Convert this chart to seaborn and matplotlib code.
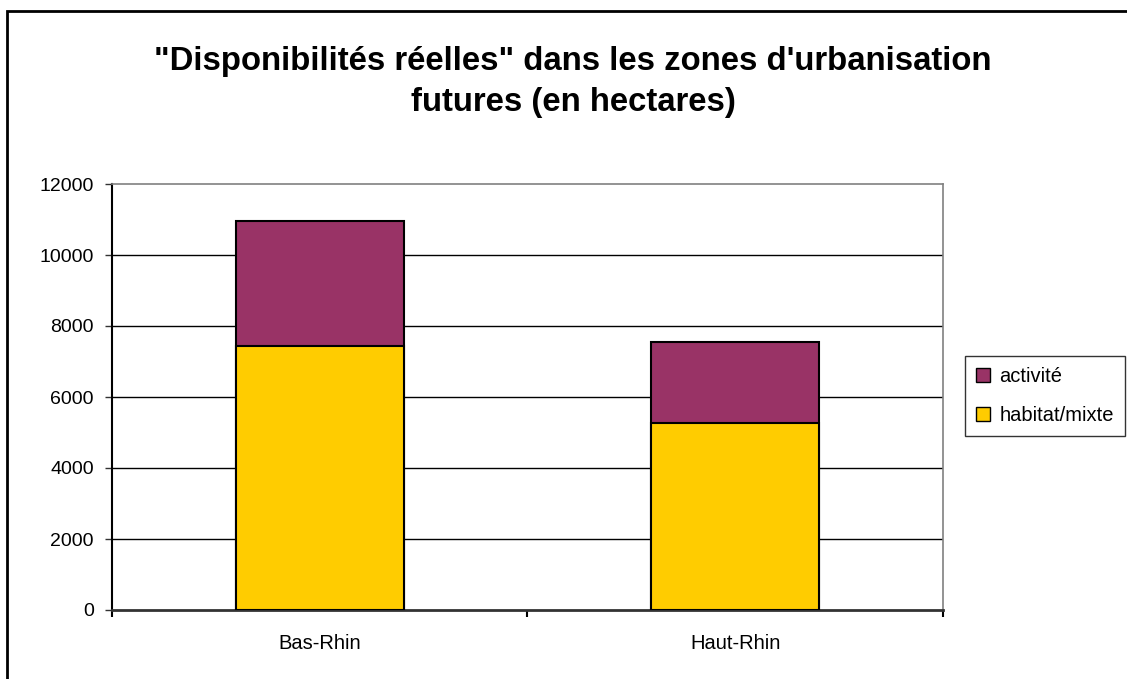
import matplotlib
matplotlib.use("Agg")
import matplotlib.pyplot as plt
from matplotlib.patches import Patch, Rectangle
import seaborn as sns
import pandas as pd

categories = ["Bas-Rhin", "Haut-Rhin"]
habitat_mixte = [7430, 5280]
activite = [3530, 2275]
series_labels = ["activité", "habitat/mixte"]
title = "\"Disponibilités réelles\" dans les zones d'urbanisation\nfutures (en hectares)"

totals = [h + a for h, a in zip(habitat_mixte, activite)]
df = pd.DataFrame({"cat": categories, "habitat": habitat_mixte, "total": totals})

sns.set_style("white")
plt.rcParams["font.family"] = ["Liberation Sans", "DejaVu Sans"]
plt.rcParams["text.color"] = "black"
plt.rcParams["xtick.color"] = "black"
plt.rcParams["ytick.color"] = "black"

W, H = 1127, 679
fig = plt.figure(figsize=(W / 100, H / 100), dpi=100)
L, R, T, B = 112, 943, 184, 610
ax = fig.add_axes([L / W, (H - B) / H, (R - L) / W, (B - T) / H])

purple = "#993366"
yellow = "#FFCC00"
sns.barplot(data=df, x="cat", y="total", color=purple, saturation=1, width=0.404,
            edgecolor="black", linewidth=1.5, ax=ax, zorder=3)
sns.barplot(data=df, x="cat", y="habitat", color=yellow, saturation=1, width=0.404,
            edgecolor="black", linewidth=1.5, ax=ax, zorder=4)

ax.set_xlim(-0.5, 1.5)
ax.set_ylim(0, 12000)
ax.set_yticks(range(0, 12001, 2000))
ax.set_xlabel("")
ax.set_ylabel("")
for y in range(2000, 12000, 2000):
    ax.axhline(y, color="black", linewidth=1.0, zorder=1)

ax.tick_params(axis="y", which="major", direction="out", length=5, width=1,
               color="#333333", pad=8, labelsize=14, left=True, labelcolor="black")
ax.tick_params(axis="x", which="major", length=0, pad=17, labelsize=14.5,
               labelcolor="black")
ax.set_xticks([-0.5, 0.5, 1.5], minor=True)
ax.tick_params(axis="x", which="minor", direction="out", length=5, width=1.5,
               color="black", bottom=True)

for side in ["top", "right"]:
    ax.spines[side].set_visible(True)
    ax.spines[side].set_color("#808080")
    ax.spines[side].set_linewidth(1.2)
ax.spines["left"].set_color("black")
ax.spines["left"].set_linewidth(1.5)
ax.spines["bottom"].set_color("#333333")
ax.spines["bottom"].set_linewidth(2)

fig.text(573 / W, 1 - 82 / H, title, ha="center", va="center", fontsize=23.7,
         fontweight="bold", linespacing=1.42, color="black")

handles = [Patch(facecolor=purple, edgecolor="black", linewidth=1),
           Patch(facecolor=yellow, edgecolor="black", linewidth=1)]
leg = fig.legend(handles, series_labels, loc="center left",
                 bbox_to_anchor=(965 / W, 1 - 396 / H), fontsize=14.5,
                 frameon=True, fancybox=False, edgecolor="black",
                 handlelength=0.7, handleheight=0.7, handletextpad=0.45,
                 labelspacing=1.0, borderpad=0.55, borderaxespad=0,
                 labelcolor="black")
leg.get_frame().set_linewidth(1)

frame = Rectangle((7 / W, -0.1), 2, 1.1 - 11 / H, transform=fig.transFigure,
                  fill=False, edgecolor="black", linewidth=2)
fig.patches.append(frame)

fig.savefig("out.png", dpi=100)
